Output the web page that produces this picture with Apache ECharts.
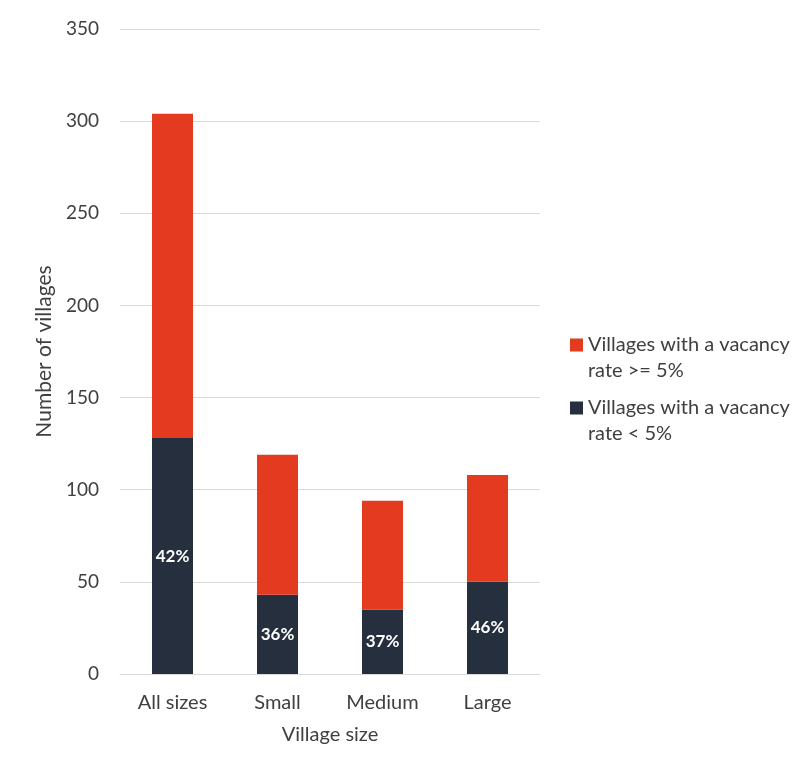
<!DOCTYPE html>
<html>
<head>
<meta charset="utf-8">
<script src="https://cdn.jsdelivr.net/npm/echarts@6/dist/echarts.min.js"></script>
<style>
  html, body { margin: 0; padding: 0; background: #ffffff; }
  #chart { width: 804px; height: 763px; }
</style>
</head>
<body>
<div id="chart"></div>
<script>
// Village size groups
const categories = ['All sizes', 'Small', 'Medium', 'Large'];
// Number of villages with a vacancy rate below 5%
const belowFive = [128, 43, 35, 50];
// Number of villages with a vacancy rate of 5% or more
const atOrAboveFive = [176, 76, 59, 58];
// Y axis tick settings
const yMin = 0, yMax = 350, yStep = 50;

const seriesAboveName = 'Villages with a vacancy\nrate >= 5%';
const seriesBelowName = 'Villages with a vacancy\nrate < 5%';

const FONT = 'Lato, "Open Sans", sans-serif';
const TEXT = '#404040';

// Legend marker: a 13px square aligned with the first text line of a two-line item
const LEGEND_LINE = 26;
const legendIcon = 'path://M0,0h0.01v0.01h-0.01z M0,6.5h13v13h-13z M12.99,51.99h0.01v0.01h-0.01z';

const chart = echarts.init(document.getElementById('chart'), null, { renderer: 'canvas' });

chart.setOption({
  backgroundColor: '#ffffff',
  animation: false,
  textStyle: { fontFamily: FONT },
  grid: { left: 120, right: 264, top: 29, bottom: 89, containLabel: false },
  legend: {
    orient: 'vertical',
    left: 570,
    top: 332,
    padding: 0,
    itemWidth: 13,
    itemHeight: LEGEND_LINE * 2,
    itemGap: 11,
    icon: legendIcon,
    data: [seriesAboveName, seriesBelowName],
    textStyle: { fontFamily: FONT, fontSize: 20, color: TEXT, lineHeight: LEGEND_LINE }
  },
  xAxis: {
    type: 'category',
    data: categories,
    name: 'Village size',
    nameLocation: 'middle',
    nameGap: 51,
    nameTextStyle: { fontFamily: FONT, fontSize: 20, color: TEXT },
    axisLine: { show: true, lineStyle: { color: '#d9d9d9', width: 1 } },
    axisTick: { show: false },
    axisLabel: { fontFamily: FONT, fontSize: 20, color: TEXT, margin: 19 }
  },
  yAxis: {
    type: 'value',
    min: yMin,
    max: yMax,
    interval: yStep,
    name: 'Number of villages',
    nameLocation: 'middle',
    nameGap: 60,
    nameTextStyle: { fontFamily: FONT, fontSize: 21, color: TEXT },
    axisLine: { show: false },
    axisTick: { show: false },
    axisLabel: { fontFamily: FONT, fontSize: 19, color: TEXT, margin: 21 },
    splitLine: { lineStyle: { color: '#d9d9d9', width: 1 } }
  },
  series: [
    {
      name: seriesBelowName,
      type: 'bar',
      stack: 'villages',
      data: belowFive,
      barWidth: 41,
      itemStyle: { color: '#252f3d' },
      label: {
        show: true,
        position: 'inside',
        fontFamily: FONT,
        fontSize: 17,
        fontWeight: 'bold',
        color: '#ffffff',
        formatter: (p) => {
          const total = belowFive[p.dataIndex] + atOrAboveFive[p.dataIndex];
          return Math.round(belowFive[p.dataIndex] / total * 100) + '%';
        }
      }
    },
    {
      name: seriesAboveName,
      type: 'bar',
      stack: 'villages',
      data: atOrAboveFive,
      barWidth: 41,
      itemStyle: { color: '#e43a20' }
    }
  ]
});
</script>
</body>
</html>
